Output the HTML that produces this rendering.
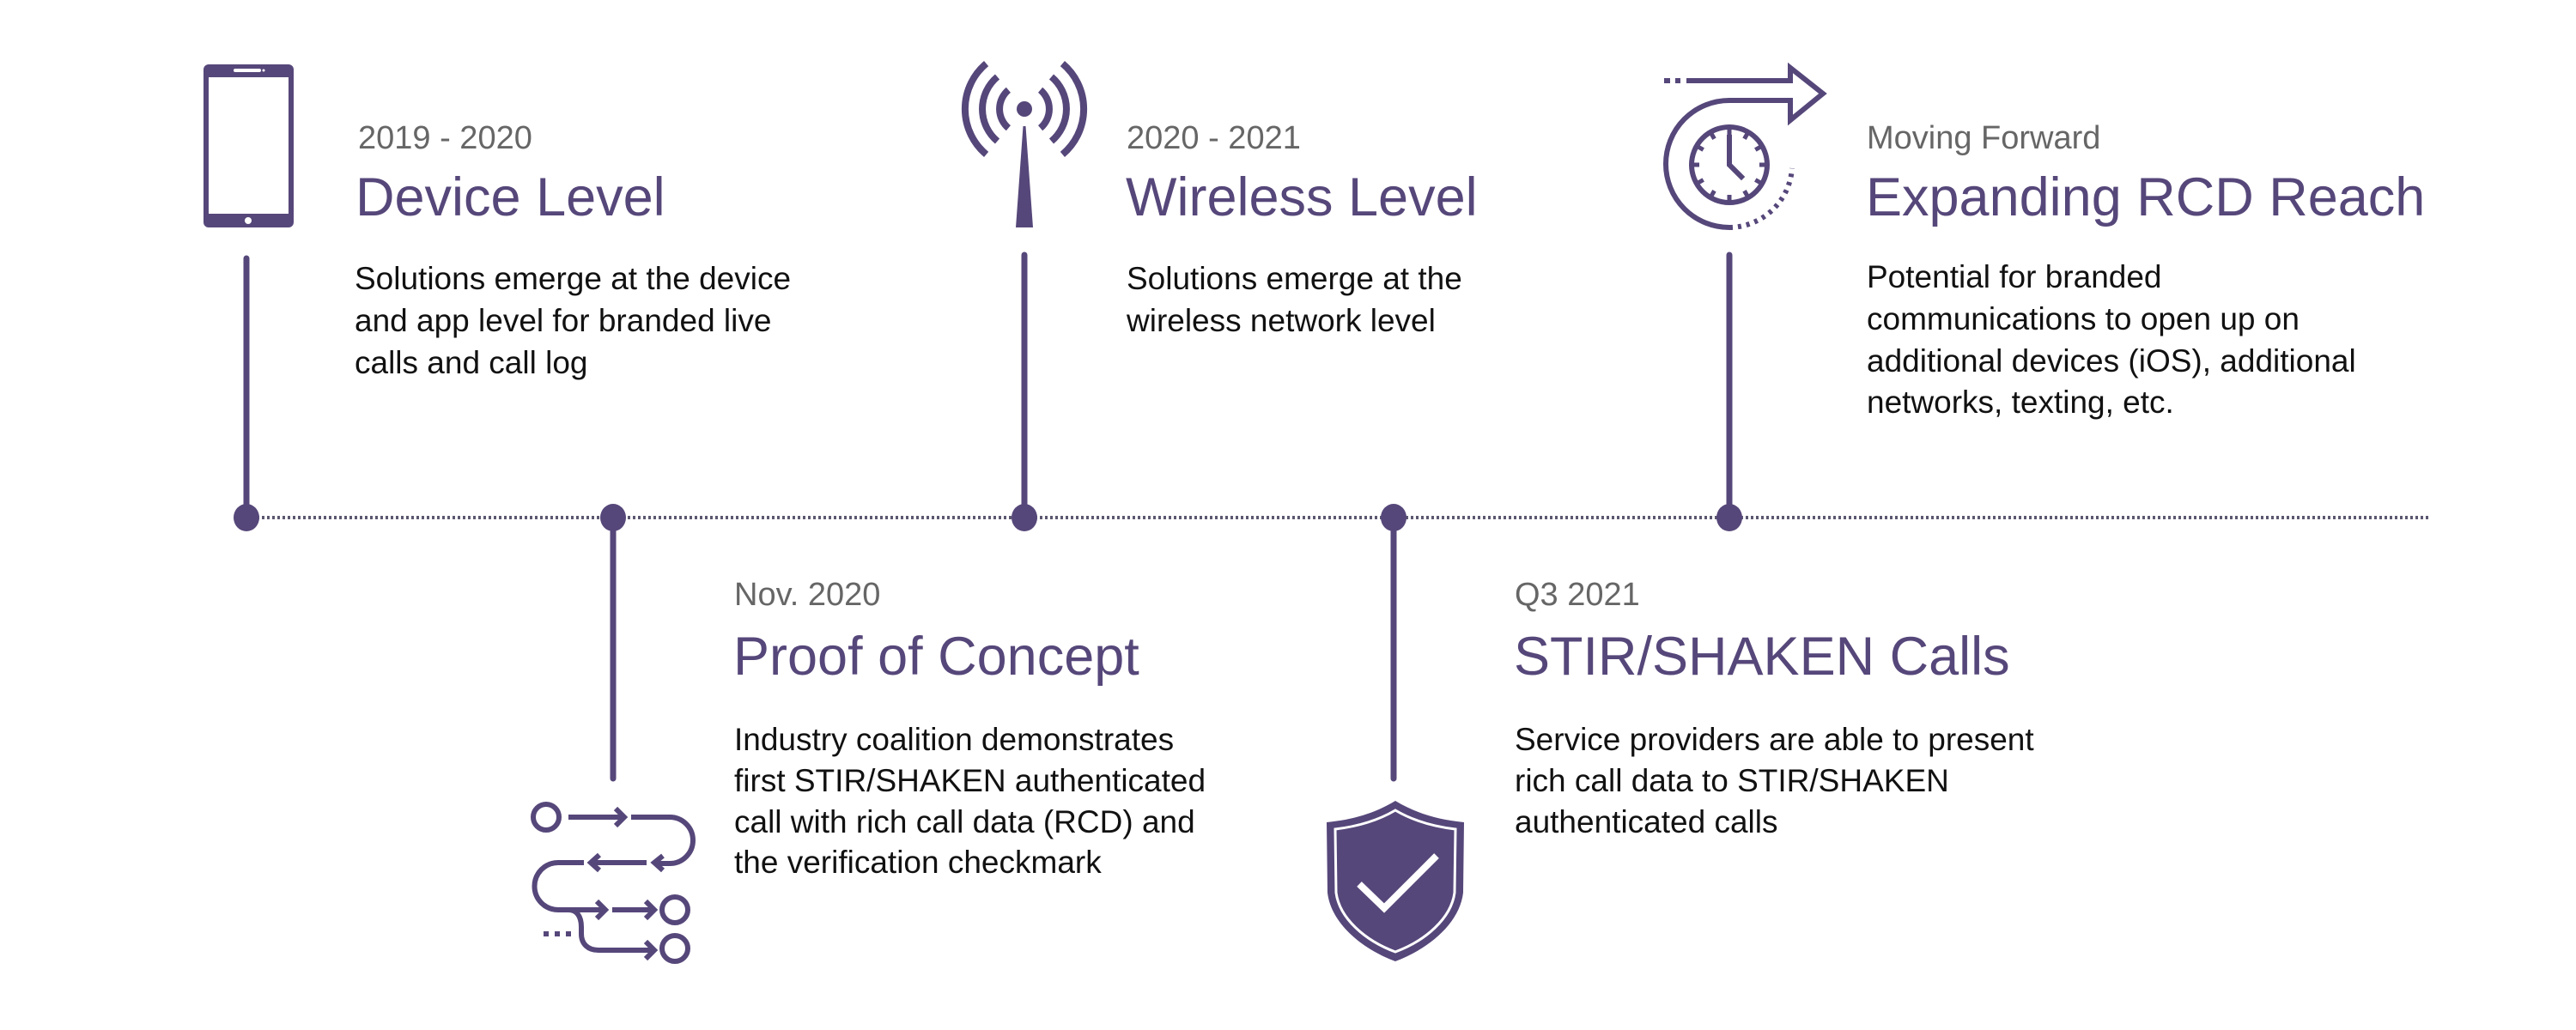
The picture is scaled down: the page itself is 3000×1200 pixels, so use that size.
<!DOCTYPE html>
<html><head><meta charset="utf-8"><style>
html,body{margin:0;padding:0;background:#fff;}
svg{display:block;}
text{font-family:"Liberation Sans",sans-serif;}
.d{font-size:38px;fill:#666;}
.t{font-size:63px;fill:#56477a;}
.b{font-size:37px;fill:#111;}
</style></head><body>
<svg width="3000" height="1200" viewBox="0 0 3000 1200" xmlns="http://www.w3.org/2000/svg">
<!-- timeline -->
<line x1="287" y1="603" x2="2831" y2="603" stroke="#5d5870" stroke-width="4" stroke-dasharray="3 3"/>
<g stroke="#56477a" stroke-width="7" stroke-linecap="round">
<line x1="287" y1="301" x2="287" y2="603"/>
<line x1="1193" y1="297" x2="1193" y2="603"/>
<line x1="2014" y1="297" x2="2014" y2="603"/>
<line x1="714" y1="603" x2="714" y2="907"/>
<line x1="1623" y1="603" x2="1623" y2="907"/>
</g>
<g fill="#56477a">
<ellipse cx="287" cy="603" rx="15" ry="16"/>
<ellipse cx="714" cy="603" rx="15" ry="16"/>
<ellipse cx="1193" cy="603" rx="15" ry="16"/>
<ellipse cx="1623" cy="603" rx="15" ry="16"/>
<ellipse cx="2014" cy="603" rx="15" ry="16"/>
</g>

<!-- phone -->
<rect x="237" y="75" width="105" height="190" rx="6" fill="#56477a"/>
<rect x="243" y="90" width="93" height="159" fill="#fff"/>
<rect x="272" y="80" width="32" height="4" rx="2" fill="#fff"/>
<circle cx="307" cy="82" r="1.5" fill="#fff"/>
<circle cx="289" cy="257" r="4" fill="#fff"/>

<!-- antenna -->
<circle cx="1193" cy="127" r="9" fill="#56477a"/>
<g fill="none" stroke="#56477a" stroke-width="8">
<path d="M1174.4,104.8 A29,29 0 0 0 1174.4,149.2"/>
<path d="M1211.6,104.8 A29,29 0 0 1 1211.6,149.2"/>
<path d="M1161.5,89.5 A49,49 0 0 0 1161.5,164.5"/>
<path d="M1224.5,89.5 A49,49 0 0 1 1224.5,164.5"/>
<path d="M1148.6,74.1 A69,69 0 0 0 1148.6,179.9"/>
<path d="M1237.4,74.1 A69,69 0 0 1 1237.4,179.9"/>
</g>
<path d="M1191.5,147 L1194.5,147 L1203,265 L1183,265 Z" fill="#56477a"/>

<!-- clock/arrow -->
<g fill="none" stroke="#56477a" stroke-width="6">
<path d="M1964,94 H2085 V79 L2123,109 L2085,140 V117 H2014 A74,74 0 0 0 2014,265" stroke-linejoin="miter"/>
<path d="M2014,265 A74,74 0 0 0 2087,196" stroke-dasharray="4 6"/>
<line x1="1938" y1="94" x2="1945" y2="94"/>
<line x1="1951" y1="94" x2="1957" y2="94"/>
<circle cx="2014" cy="192" r="44"/>
<path d="M2014,160 V192 L2028,206" stroke-linecap="square"/>
</g>
<g stroke="#56477a" stroke-width="5">
<line x1="2014" y1="150" x2="2014" y2="157"/>
<line x1="2014" y1="227" x2="2014" y2="234"/>
<line x1="1972" y1="192" x2="1979" y2="192"/>
<line x1="2049" y1="192" x2="2056" y2="192"/>
<line x1="2035" y1="155.6" x2="2031.5" y2="161.7"/>
<line x1="2050.4" y1="171" x2="2044.3" y2="174.5"/>
<line x1="2050.4" y1="213" x2="2044.3" y2="209.5"/>
<line x1="2035" y1="228.4" x2="2031.5" y2="222.3"/>
<line x1="1993" y1="228.4" x2="1996.5" y2="222.3"/>
<line x1="1977.6" y1="213" x2="1983.7" y2="209.5"/>
<line x1="1977.6" y1="171" x2="1983.7" y2="174.5"/>
<line x1="1993" y1="155.6" x2="1996.5" y2="161.7"/>
</g>

<!-- flow icon -->
<g fill="none" stroke="#56477a" stroke-width="6">
<circle cx="636" cy="952" r="15"/>
<path d="M662,952 H725"/>
<path d="M717,942 L727,952 L717,962"/>
<path d="M735,952 H780 A27,27 0 0 1 780,1006 H764"/>
<path d="M772,997 L762,1005 L772,1014"/>
<path d="M753,1005 H690"/>
<path d="M698,996 L688,1005 L698,1014"/>
<path d="M680,1005 H650 A27.5,27.5 0 0 0 650,1060 H703"/>
<path d="M695,1050 L705,1060 L695,1070"/>
<path d="M713,1060 H760"/>
<path d="M752,1050 L762,1060 L752,1070"/>
<circle cx="786" cy="1060" r="15"/>
<path d="M662,1060 C672,1060 677,1068 677,1080 V1088 C677,1100 685,1107 697,1107 H760"/>
<path d="M752,1097 L762,1107 L752,1117"/>
<circle cx="786" cy="1105" r="15"/>
</g>
<g fill="#56477a">
<rect x="633" y="1085" width="6" height="6"/>
<rect x="646" y="1085" width="6" height="6"/>
<rect x="659" y="1085" width="6" height="6"/>
</g>

<!-- shield -->
<path d="M1625,933 C1600,948 1575,955 1545,958 L1546,1040 C1550,1075 1585,1105 1625,1120 C1665,1105 1700,1075 1704,1040 L1705,958 C1675,955 1650,948 1625,933 Z" fill="#56477a"/>
<path d="M1625,944 C1603,957 1580,963 1555,966 L1556,1040 C1560,1070 1590,1096 1625,1109 C1660,1096 1690,1070 1694,1040 L1695,966 C1670,963 1647,957 1625,944 Z" fill="none" stroke="#fff" stroke-width="3"/>
<path d="M1583,1030 L1612,1058 L1673,997" fill="none" stroke="#fff" stroke-width="8"/>

<!-- texts -->
<text class="d" x="417" y="173">2019 - 2020</text>
<text class="t" x="414" y="251">Device Level</text>
<text class="b" x="413" y="337">Solutions emerge at the device</text>
<text class="b" x="413" y="386">and app level for branded live</text>
<text class="b" x="413" y="435">calls and call log</text>

<text class="d" x="1312" y="173">2020 - 2021</text>
<text class="t" x="1311" y="251">Wireless Level</text>
<text class="b" x="1312" y="337">Solutions emerge at the</text>
<text class="b" x="1312" y="386">wireless network level</text>

<text class="d" x="2174" y="173">Moving Forward</text>
<text class="t" x="2173" y="251">Expanding RCD Reach</text>
<text class="b" x="2174" y="335">Potential for branded</text>
<text class="b" x="2174" y="384">communications to open up on</text>
<text class="b" x="2174" y="433">additional devices (iOS), additional</text>
<text class="b" x="2174" y="481">networks, texting, etc.</text>

<text class="d" x="855" y="705">Nov. 2020</text>
<text class="t" x="854" y="786">Proof of Concept</text>
<text class="b" x="855" y="874">Industry coalition demonstrates</text>
<text class="b" x="855" y="922">first STIR/SHAKEN authenticated</text>
<text class="b" x="855" y="970">call with rich call data (RCD) and</text>
<text class="b" x="855" y="1017">the verification checkmark</text>

<text class="d" x="1764" y="705">Q3 2021</text>
<text class="t" x="1763" y="786">STIR/SHAKEN Calls</text>
<text class="b" x="1764" y="874">Service providers are able to present</text>
<text class="b" x="1764" y="922">rich call data to STIR/SHAKEN</text>
<text class="b" x="1764" y="970">authenticated calls</text>
</svg>
</body></html>
